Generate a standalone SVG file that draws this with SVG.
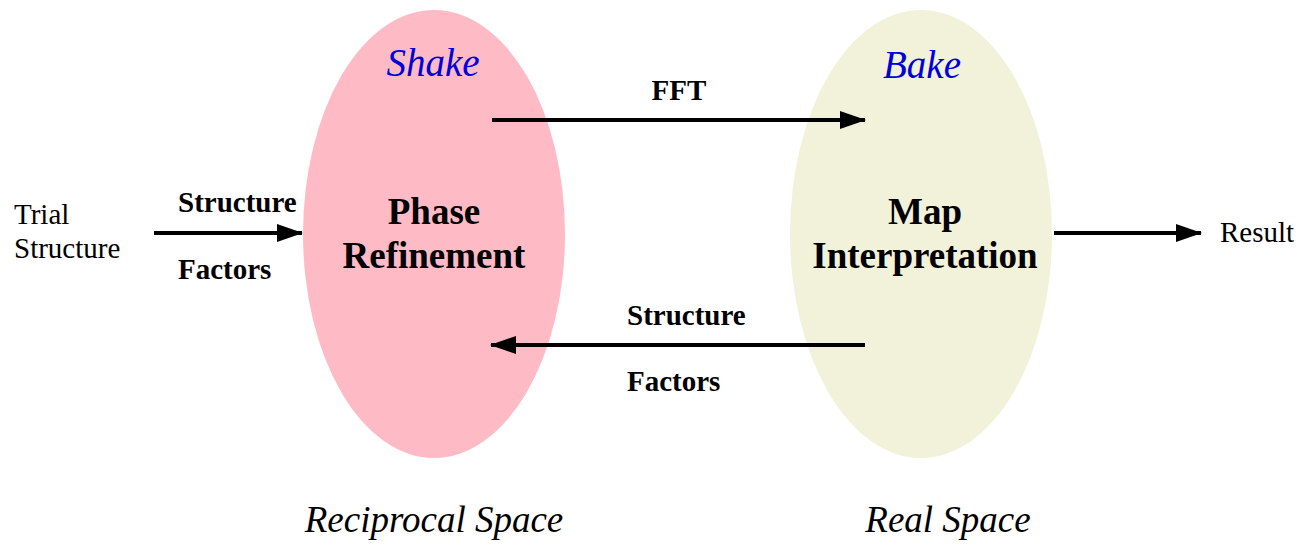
<svg xmlns="http://www.w3.org/2000/svg" width="1312" height="548" viewBox="0 0 1312 548">
  <style>
    .lbl { font-family: "Liberation Serif", "Times New Roman", serif; fill: #000; }
    .bold { font-weight: bold; font-size: 29px; }
    .big { font-weight: bold; font-size: 37px; text-anchor: middle; }
    .plain { font-size: 29px; }
    .ital { font-style: italic; font-size: 37px; text-anchor: middle; }
    .title { font-style: italic; font-size: 39px; text-anchor: middle; fill: #0000dd; }
    .edge { stroke: #000; stroke-width: 4; fill: none; marker-end: url(#head); }
  </style>
  <defs>
    <marker id="head" viewBox="0 0 26 18" refX="25" refY="9" markerWidth="26" markerHeight="18" markerUnits="userSpaceOnUse" orient="auto">
      <path d="M0,0 L26,9 L0,18 Z" fill="#000"/>
    </marker>
  </defs>

  <!-- reciprocal-space step -->
  <g id="shake">
    <ellipse cx="434" cy="234" rx="131" ry="224" fill="#ffbbc5"/>
    <text class="lbl title" x="433" y="76">Shake</text>
    <text class="lbl big" x="434" y="224">Phase</text>
    <text class="lbl big" x="434" y="268">Refinement</text>
  </g>

  <!-- real-space step -->
  <g id="bake">
    <ellipse cx="921" cy="234" rx="131" ry="224" fill="#f2f2da"/>
    <text class="lbl title" x="922" y="78">Bake</text>
    <text class="lbl big" x="925" y="224">Map</text>
    <text class="lbl big" x="925" y="268">Interpretation</text>
  </g>

  <g id="trial">
    <text class="lbl plain" x="14" y="224">Trial</text>
    <text class="lbl plain" x="14" y="258">Structure</text>
  </g>

  <g id="result">
    <text class="lbl plain" x="1220" y="242">Result</text>
  </g>

  <g id="spaces">
    <text class="lbl ital" x="434" y="532">Reciprocal Space</text>
    <text class="lbl ital" x="948" y="532">Real Space</text>
  </g>

  <g id="connectors">
    <line class="edge" x1="154" y1="233" x2="302" y2="233"/>
    <text class="lbl bold" x="178" y="212">Structure</text>
    <text class="lbl bold" x="178" y="279">Factors</text>

    <line class="edge" x1="492" y1="120" x2="865" y2="120"/>
    <text class="lbl bold" x="679" y="100" text-anchor="middle">FFT</text>

    <line class="edge" x1="865" y1="345" x2="491" y2="345"/>
    <text class="lbl bold" x="627" y="325">Structure</text>
    <text class="lbl bold" x="627" y="391">Factors</text>

    <line class="edge" x1="1054" y1="233" x2="1201" y2="233"/>
  </g>
</svg>
